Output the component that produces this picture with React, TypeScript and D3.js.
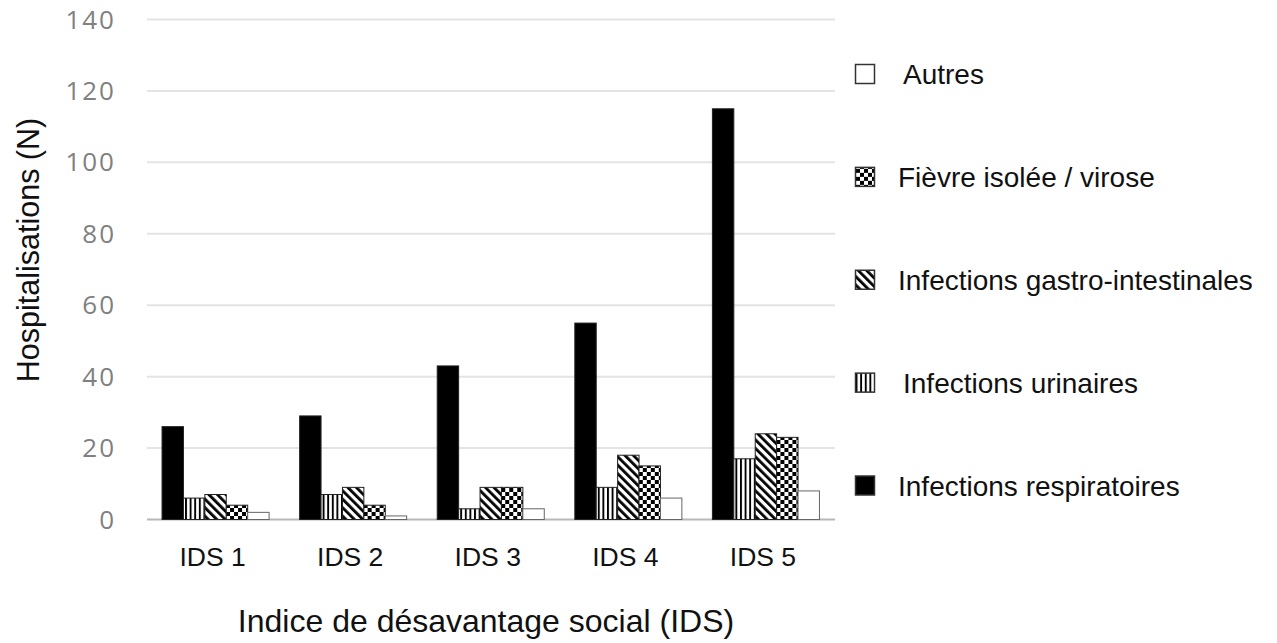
import React from "react";
import * as d3 from "d3";

const categories = ["IDS 1", "IDS 2", "IDS 3", "IDS 4", "IDS 5"];
const seriesNames = [
  "Infections respiratoires",
  "Infections urinaires",
  "Infections gastro-intestinales",
  "Fièvre isolée / virose",
  "Autres",
];
const respiratoires = [26, 29, 43, 55, 115];
const urinaires = [6, 7, 3, 9, 17];
const gastro = [7, 9, 9, 18, 24];
const fievre = [4, 4, 9, 15, 23];
const autres = [2, 1, 3, 6, 8];
const yTicks = [0, 20, 40, 60, 80, 100, 120, 140];
const legendOrder = [
  "Autres",
  "Fièvre isolée / virose",
  "Infections gastro-intestinales",
  "Infections urinaires",
  "Infections respiratoires",
];

const seriesValues: Record<string, number[]> = {
  "Infections respiratoires": respiratoires,
  "Infections urinaires": urinaires,
  "Infections gastro-intestinales": gastro,
  "Fièvre isolée / virose": fievre,
  Autres: autres,
};

const fills: Record<string, string> = {
  "Infections respiratoires": "#000",
  "Infections urinaires": "url(#pVert)",
  "Infections gastro-intestinales": "url(#pDiag)",
  "Fièvre isolée / virose": "url(#pCheck)",
  Autres: "#fff",
};
const strokes: Record<string, string> = {
  "Infections respiratoires": "#222",
  "Infections urinaires": "#222",
  "Infections gastro-intestinales": "#222",
  "Fièvre isolée / virose": "#222",
  Autres: "#666",
};

export default function App() {
  const W = 1277;
  const H = 643;
  const y = d3.scaleLinear().domain([0, 140]).range([519.5, 19.5]);
  const x = d3
    .scaleBand<string>()
    .domain(categories)
    .range([131.5, 850])
    .paddingInner(0.222)
    .paddingOuter(0.222);
  const xs = d3
    .scaleBand<string>()
    .domain(seriesNames)
    .range([0, x.bandwidth()]);
  const legendY = d3
    .scalePoint<string>()
    .domain(legendOrder)
    .range([74, 485.5]);

  const font = "'Liberation Sans', Arial, sans-serif";

  return (
    <svg
      width={W}
      height={H}
      style={{ position: "absolute", left: 0, top: 0, background: "#fff" }}
    >
      <defs>
        <pattern id="pVert" width={4.6} height={10} patternUnits="userSpaceOnUse">
          <rect width={4.6} height={10} fill="#fff" />
          <rect x={0} width={1.9} height={10} fill="#000" />
        </pattern>
        <pattern
          id="pDiag"
          width={6}
          height={10}
          patternUnits="userSpaceOnUse"
          patternTransform="rotate(-45)"
        >
          <rect width={6} height={10} fill="#fff" />
          <rect x={0} width={2.8} height={10} fill="#000" />
        </pattern>
        <pattern id="pCheck" width={8} height={8} patternUnits="userSpaceOnUse">
          <rect width={8} height={8} fill="#fff" />
          <rect x={0} y={0} width={4} height={4} fill="#000" />
          <rect x={4} y={4} width={4} height={4} fill="#000" />
        </pattern>
      </defs>

      {/* gridlines */}
      {yTicks.map((t) => (
        <line
          key={t}
          x1={147}
          x2={835}
          y1={y(t)}
          y2={y(t)}
          stroke={t === 0 ? "#b8b8b8" : "#e4e4e4"}
          strokeWidth={2}
        />
      ))}

      {/* tick labels */}
      {yTicks.map((t) => (
        <text
          key={"l" + t}
          x={116}
          y={y(t)}
          dy="0.35em"
          textAnchor="end"
          fill="#808080"
          fontFamily="'Open Sans', sans-serif"
          fontSize={26}
          letterSpacing={2}
        >
          {t}
        </text>
      ))}

      {/* bars */}
      {categories.map((c, i) => (
        <g key={c} transform={`translate(${x(c)},0)`}>
          {seriesNames.map((s) => {
            const v = seriesValues[s][i];
            return (
              <rect
                key={s}
                x={xs(s)}
                y={y(v)}
                width={xs.bandwidth()}
                height={y(0) - y(v)}
                fill={fills[s]}
                stroke={strokes[s]}
                strokeWidth={1}
              />
            );
          })}
        </g>
      ))}

      {/* x labels */}
      {categories.map((c) => (
        <text
          key={"x" + c}
          x={(x(c) as number) + x.bandwidth() / 2 - 3}
          y={566}
          textAnchor="middle"
          fontFamily={font}
          fontSize={26.5}
          fill="#111"
        >
          {c}
        </text>
      ))}

      {/* axis titles */}
      <text
        x={486}
        y={632}
        textAnchor="middle"
        fontFamily={font}
        fontSize={32}
        fill="#111"
      >
        Indice de désavantage social (IDS)
      </text>
      <text
        transform="translate(39,250) rotate(-90)"
        textAnchor="middle"
        fontFamily={font}
        fontSize={30.5}
        fill="#111"
      >
        Hospitalisations (N)
      </text>

      {/* legend */}
      {legendOrder.map((s) => (
        <g key={"lg" + s} transform={`translate(0,${legendY(s)})`}>
          <rect
            x={855.5}
            y={-9.5}
            width={19}
            height={19}
            fill={fills[s]}
            stroke="#333"
            strokeWidth={1.5}
          />
          <text
            x={s === "Autres" || s === "Infections urinaires" ? 903 : 898}
            y={0}
            dy="0.36em"
            fontFamily={font}
            fontSize={28}
            fill="#111"
          >
            {s}
          </text>
        </g>
      ))}
    </svg>
  );
}
